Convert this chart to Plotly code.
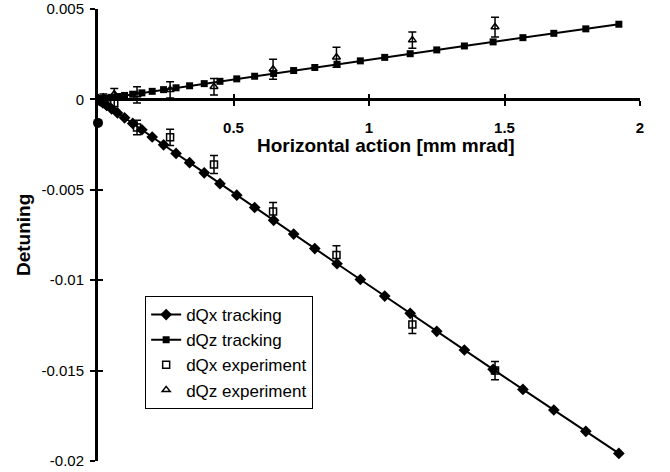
import plotly.graph_objects as go

# Tracking results: horizontal action [mm mrad] and tune shifts
track_action = [0, 0.002, 0.008, 0.018, 0.032, 0.05, 0.072, 0.098, 0.128, 0.162,
                0.2, 0.242, 0.288, 0.338, 0.392, 0.45, 0.512, 0.578, 0.648, 0.722,
                0.8, 0.882, 0.968, 1.058, 1.152, 1.25, 1.352, 1.458, 1.568, 1.682,
                1.8, 1.922]
dqx_tracking = [0, -0.0000208, -0.0000832, -0.000187, -0.000333, -0.00052, -0.000748,
                -0.00102, -0.00133, -0.00168, -0.00208, -0.00251, -0.00299, -0.0035,
                -0.00406, -0.00466, -0.0053, -0.00598, -0.00669, -0.00745, -0.00825,
                -0.00909, -0.00996, -0.01088, -0.01183, -0.01283, -0.01386, -0.01493,
                -0.01604, -0.01718, -0.01836, -0.01958]
dqz_tracking = [0, 0.0000045, 0.0000179, 0.0000403, 0.0000717, 0.000112, 0.000161,
                0.000219, 0.000286, 0.000362, 0.000446, 0.00054, 0.000642, 0.000753,
                0.000872, 0.001, 0.001136, 0.001281, 0.001435, 0.001596, 0.001766,
                0.001944, 0.002131, 0.002325, 0.002527, 0.002738, 0.002955, 0.003181,
                0.003414, 0.003655, 0.003902, 0.004157]

# Measured points with error bars
exp_action = [0.02, 0.06, 0.144, 0.266, 0.428, 0.646, 0.88, 1.16, 1.465]
dqx_exp = [-0.0001, -0.0002, -0.00156, -0.0021, -0.0036, -0.0062, -0.0086, -0.01245, -0.015]
dqx_err = [0.0002, 0.0002, 0.0004, 0.00045, 0.0005, 0.0005, 0.0005, 0.0005, 0.0005]
dqz_exp = [0.0001, 0.0003, 0.00025, 0.00053, 0.0007, 0.00167, 0.00233, 0.00328, 0.004]
dqz_err = [0.0002, 0.0003, 0.00045, 0.00045, 0.00045, 0.00055, 0.00055, 0.00045, 0.00055]

# Isolated point on the vertical axis
origin_action = [0]
origin_detuning = [-0.0013]

x_ticks = [0.5, 1, 1.5, 2]
x_ticktext = ["<b>0.5</b>", "<b>1</b>", "<b>1.5</b>", "<b>2</b>"]
y_ticks = [0.005, 0, -0.005, -0.01, -0.015, -0.02]
y_ticktext = ["0.005", "0", "-0.005", "-0.01", "-0.015", "-0.02"]

FONT = "Arial, Liberation Sans, Helvetica, sans-serif"
X_RANGE = [0, 2]
Y_RANGE = [-0.02, 0.005]
ZERO_POS = (0 - Y_RANGE[0]) / (Y_RANGE[1] - Y_RANGE[0])

fig = go.Figure()

fig.add_trace(go.Scatter(
    x=track_action, y=dqx_tracking, mode="lines+markers", name="dQx tracking",
    line=dict(color="black", width=2),
    marker=dict(symbol="diamond", size=9, color="black"),
    legendgroup="a",
))
fig.add_trace(go.Scatter(
    x=track_action, y=dqz_tracking, mode="lines+markers", name="dQz tracking",
    line=dict(color="black", width=2),
    marker=dict(symbol="square", size=7, color="black"),
    legendgroup="b",
))
fig.add_trace(go.Scatter(
    x=exp_action, y=dqx_exp, mode="markers", name="dQx experiment",
    marker=dict(symbol="square-open", size=7, color="black", line=dict(width=1.5)),
    error_y=dict(type="data", array=dqx_err, color="black", thickness=1.5, width=4),
    legendgroup="c",
))
fig.add_trace(go.Scatter(
    x=exp_action, y=dqz_exp, mode="markers", name="dQz experiment",
    marker=dict(symbol="triangle-up-open", size=7, color="black", line=dict(width=1.5)),
    error_y=dict(type="data", array=dqz_err, color="black", thickness=1.5, width=4),
    legendgroup="d",
))
fig.add_trace(go.Scatter(
    x=origin_action, y=origin_detuning, mode="markers", showlegend=False,
    marker=dict(symbol="circle", size=10, color="black"),
    cliponaxis=False,
))
# Empty trace that carries the overlaid axes used for the inward half of the ticks
fig.add_trace(go.Scatter(x=[], y=[], xaxis="x2", yaxis="y2", showlegend=False,
                         hoverinfo="skip"))

axis_common = dict(showgrid=False, zeroline=False, color="black", automargin=False)

fig.update_layout(
    width=670, height=472, autosize=False,
    margin=dict(l=98, r=30, t=9, b=11),
    paper_bgcolor="white", plot_bgcolor="white",
    font=dict(family=FONT, size=15, color="black"),
    showlegend=True,
    xaxis=dict(
        **axis_common, range=X_RANGE, anchor="free", position=ZERO_POS,
        showline=True, linewidth=3, linecolor="black",
        tickmode="array", tickvals=x_ticks, ticktext=x_ticktext,
        ticks="outside", ticklen=5, tickwidth=2, tickcolor="black",
        ticklabelstandoff=9, tickfont=dict(size=15),
    ),
    xaxis2=dict(
        **axis_common, range=X_RANGE, overlaying="x", anchor="free", position=ZERO_POS,
        showline=False, tickmode="array", tickvals=x_ticks,
        ticks="inside", ticklen=5, tickwidth=2, tickcolor="black",
        showticklabels=False,
    ),
    yaxis=dict(
        **axis_common, range=Y_RANGE,
        showline=True, linewidth=3, linecolor="black",
        tickmode="array", tickvals=y_ticks, ticktext=y_ticktext,
        ticks="outside", ticklen=5, tickwidth=2, tickcolor="black",
        ticklabelstandoff=3, tickfont=dict(size=15),
    ),
    yaxis2=dict(
        **axis_common, range=Y_RANGE, overlaying="y", anchor="x2",
        showline=False, tickmode="array", tickvals=y_ticks,
        ticks="inside", ticklen=5, tickwidth=2, tickcolor="black",
        showticklabels=False,
    ),
    legend=dict(
        x=0.087, y=0.365, xanchor="left", yanchor="top",
        bgcolor="white", bordercolor="black", borderwidth=1,
        font=dict(family=FONT, size=17), tracegroupgap=0,
        itemwidth=30,
    ),
    annotations=[
        dict(text="<b>Horizontal action [mm mrad]</b>", xref="paper", yref="paper",
             x=0.532, y=ZERO_POS, yshift=-46, showarrow=False,
             font=dict(size=19), xanchor="center", yanchor="middle"),
        dict(text="<b>Detuning</b>", xref="paper", yref="paper",
             x=0, xshift=-75, y=0.5, showarrow=False, textangle=-90,
             font=dict(size=19), xanchor="center", yanchor="middle"),
    ],
)

fig.write_html("out.html")
